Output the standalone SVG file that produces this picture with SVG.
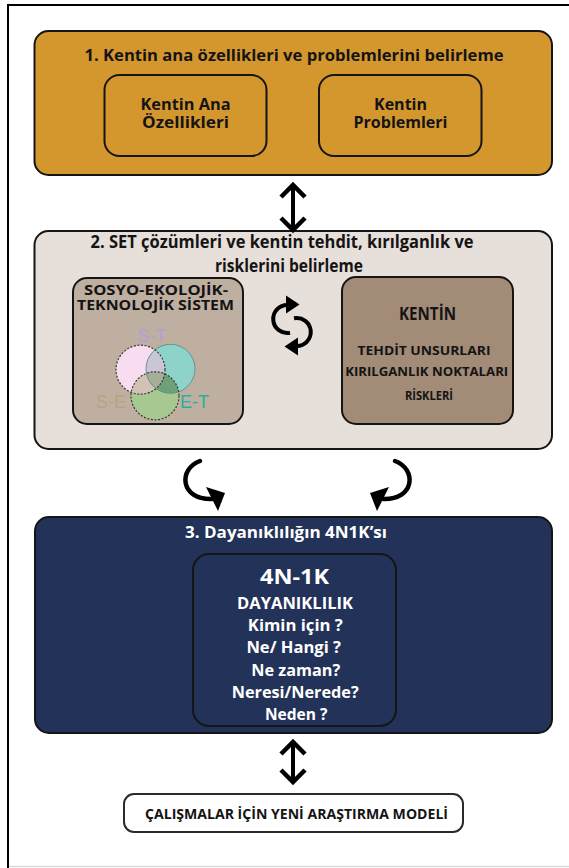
<svg xmlns="http://www.w3.org/2000/svg" width="569" height="868" viewBox="0 0 569 868">
<style>
.box{stroke:#151515;stroke-width:2}
.t{font-family:"Open Sans",Lato,"Liberation Sans",sans-serif;font-weight:700;text-anchor:middle}
.k{fill:#141414}
.w{fill:#ffffff}
.shaft{fill:none;stroke:#000;stroke-width:4}
.chev{fill:none;stroke:#000;stroke-width:4.5;stroke-linejoin:miter;stroke-miterlimit:6}
.curve{fill:none;stroke:#000;stroke-width:4.5;stroke-linecap:round}
.head{fill:#000}
.venn{font-family:"Liberation Sans",Arial,sans-serif;font-size:18px;text-anchor:middle}
.dash{fill:none;stroke:#3a3a3a;stroke-width:1.2;stroke-dasharray:2 1.6}
</style>
<defs>
<clipPath id="cP"><circle cx="140.5" cy="369.7" r="24.5"/></clipPath>
<clipPath id="cT"><circle cx="170.5" cy="368.8" r="24.5"/></clipPath>
<g id="cyc">
<path class="curve" style="stroke-width:4;stroke-linecap:butt" d="M 290 332.7 A 14 14 0 1 1 288 305"/>
<polygon class="head" points="286,295.5 299.5,304.5 286,313.5"/>
</g>
<g id="hook">
<path class="curve" d="M 200 461 C 178 469 180 500 212 499"/>
<polygon class="head" points="206,487 225,493 218,511"/>
</g>
</defs>
<rect width="569" height="868" fill="#ffffff"/>
<path d="M 8 868 V 5 H 569" fill="none" stroke="#000" stroke-width="2"/>
<line x1="9" y1="866.5" x2="569" y2="866.5" stroke="#dcdcdc" stroke-width="1.5"/>

<g id="step1">
<rect class="box" x="34.5" y="31" width="517.5" height="144" rx="14" fill="#D4972E"/>
<text class="t k" x="294" y="61" font-size="16.5" textLength="419" lengthAdjust="spacingAndGlyphs">1. Kentin ana özellikleri ve problemlerini belirleme</text>
</g>
<g id="ana-ozellikler">
<rect class="box" x="104.5" y="75" width="162" height="81" rx="15" fill="#D4972E"/>
<text class="t k" x="185.5" y="110" font-size="16" textLength="90" lengthAdjust="spacingAndGlyphs">Kentin Ana</text>
<text class="t k" x="185.5" y="128" font-size="16" textLength="87" lengthAdjust="spacingAndGlyphs">Özellikleri</text>
</g>
<g id="problemler">
<rect class="box" x="319" y="75" width="162.5" height="81" rx="15" fill="#D4972E"/>
<text class="t k" x="400.5" y="110" font-size="16" textLength="53" lengthAdjust="spacingAndGlyphs">Kentin</text>
<text class="t k" x="400.5" y="128" font-size="16" textLength="94" lengthAdjust="spacingAndGlyphs">Problemleri</text>
</g>

<g id="step2">
<rect class="box" x="34.5" y="231" width="517.5" height="218" rx="14" fill="#E7DFD9"/>
<text class="t k" x="282" y="248" font-size="17.5" textLength="383" lengthAdjust="spacingAndGlyphs">2. SET çözümleri ve kentin tehdit, kırılganlık ve</text>
<text class="t k" x="289" y="272" font-size="17.5" textLength="148" lengthAdjust="spacingAndGlyphs">risklerini belirleme</text>
</g>
<g id="set-sistem">
<rect class="box" x="73" y="278" width="170" height="146" rx="14" fill="#BEAFA1"/>
<text class="t k" x="156" y="295" font-size="13.5" textLength="144" lengthAdjust="spacingAndGlyphs">SOSYO-EKOLOJİK-</text>
<text class="t k" x="155.5" y="309.5" font-size="13.5" textLength="157" lengthAdjust="spacingAndGlyphs">TEKNOLOJİK SİSTEM</text>
<circle cx="140.5" cy="369.7" r="24.5" fill="#F8DCF0"/>
<circle cx="170.5" cy="368.8" r="24.5" fill="#8ED3C9"/>
<circle cx="155" cy="395.8" r="24" fill="#A8C891"/>
<circle cx="170.5" cy="368.8" r="24.5" fill="#CAC6D6" clip-path="url(#cP)"/>
<circle cx="155" cy="395.8" r="24" fill="#D1C2B4" clip-path="url(#cP)"/>
<circle cx="155" cy="395.8" r="24" fill="#6FA176" clip-path="url(#cT)"/>
<g clip-path="url(#cP)"><circle cx="155" cy="395.8" r="24" fill="#A6AE98" clip-path="url(#cT)"/></g>
<circle cx="170.5" cy="368.8" r="24.5" fill="none" stroke="#5f8f8a" stroke-width="0.9"/>
<circle class="dash" cx="140.5" cy="369.7" r="24.5"/>
<circle class="dash" cx="155" cy="395.8" r="24"/>
<text class="venn" x="152" y="341.5" fill="#B49ED8">S-T</text>
<text class="venn" x="111" y="408" fill="#B3A583">S-E</text>
<text class="venn" x="194.5" y="408" fill="#27B09E">E-T</text>
</g>
<g id="kentin">
<rect class="box" x="342" y="277" width="171" height="147" rx="14" fill="#A28B77"/>
<text class="t k" x="427.5" y="320" font-size="17" textLength="57" lengthAdjust="spacingAndGlyphs">KENTİN</text>
<text class="t k" x="424" y="355" font-size="12" textLength="133" lengthAdjust="spacingAndGlyphs">TEHDİT UNSURLARI</text>
<text class="t k" x="426.7" y="376" font-size="12" textLength="163" lengthAdjust="spacingAndGlyphs">KIRILGANLIK NOKTALARI</text>
<text class="t k" x="429" y="400" font-size="12" textLength="48" lengthAdjust="spacingAndGlyphs">RİSKLERİ</text>
</g>

<g id="step3">
<rect class="box" x="35" y="517" width="517" height="216" rx="14" fill="#233258"/>
<text class="t w" x="286" y="538" font-size="16.5" textLength="202" lengthAdjust="spacingAndGlyphs">3. Dayanıklılığın 4N1K’sı</text>
</g>
<g id="dayaniklilik-4n1k">
<rect class="box" x="193" y="554" width="203" height="172" rx="16" fill="#233258"/>
<text class="t w" x="294.5" y="584" font-size="20.5" textLength="69" lengthAdjust="spacingAndGlyphs">4N-1K</text>
<text class="t w" x="295" y="609" font-size="16" textLength="116" lengthAdjust="spacingAndGlyphs">DAYANIKLILIK</text>
<text class="t w" x="295.3" y="631" font-size="16" textLength="95" lengthAdjust="spacingAndGlyphs">Kimin için ?</text>
<text class="t w" x="293.7" y="653" font-size="16" textLength="94.6" lengthAdjust="spacingAndGlyphs">Ne/ Hangi ?</text>
<text class="t w" x="295.8" y="676" font-size="16" textLength="89" lengthAdjust="spacingAndGlyphs">Ne zaman?</text>
<text class="t w" x="295.2" y="698" font-size="16" textLength="127" lengthAdjust="spacingAndGlyphs">Neresi/Nerede?</text>
<text class="t w" x="296.2" y="720" font-size="16" textLength="62.5" lengthAdjust="spacingAndGlyphs">Neden ?</text>
</g>

<g id="yeni-model">
<rect x="124" y="794" width="339" height="38" rx="10" fill="#ffffff" stroke="#2a2a2a" stroke-width="2"/>
<text class="t k" x="296.5" y="819" font-size="14" textLength="303" lengthAdjust="spacingAndGlyphs">ÇALIŞMALAR İÇİN YENİ ARAŞTIRMA MODELİ</text>
</g>

<g id="connectors">
<line class="shaft" x1="293" y1="187" x2="293" y2="227"/>
<polyline class="chev" points="281,197 293,185 305,197"/>
<polyline class="chev" points="281,218 293,230 305,218"/>
<use href="#cyc"/>
<use href="#cyc" transform="rotate(180 292 325.5)"/>
<use href="#hook"/>
<use href="#hook" transform="translate(595 0) scale(-1 1)"/>
<line class="shaft" x1="293" y1="745" x2="293" y2="779"/>
<polyline class="chev" points="281,754 293,742 305,754"/>
<polyline class="chev" points="281,770 293,782 305,770"/>
</g>
</svg>
